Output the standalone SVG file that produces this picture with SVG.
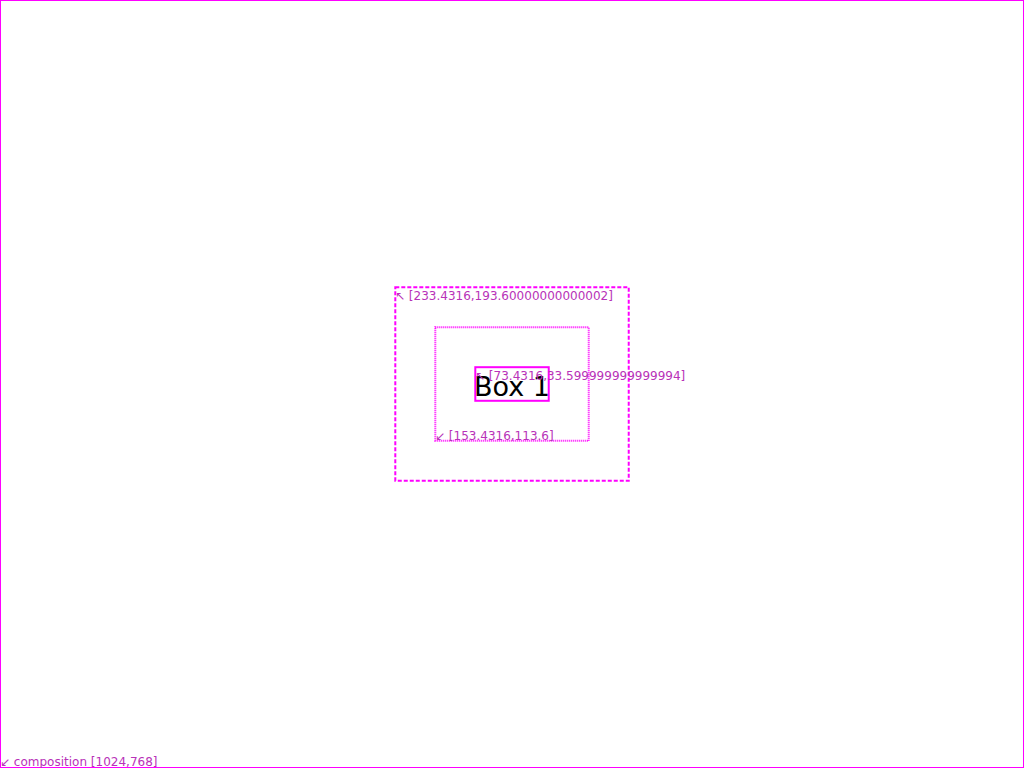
<svg xmlns="http://www.w3.org/2000/svg" width="1024" height="768" viewBox="0 0 1024 768">
<style>
.lbl{font-family:"DejaVu Sans",sans-serif;font-size:12px;fill:#b832b8}
.frame{fill:none;stroke:#ff00ff}
</style>
<rect width="1024" height="768" fill="#fff"/>
<g id="composition">
<rect class="frame" x="0.5" y="0.5" width="1023" height="767" stroke-width="1"/>
<text class="lbl" x="0" y="766">↙ composition [1024,768]</text>
</g>
<g id="outer">
<rect class="frame" x="395.3" y="287.2" width="233.43" height="193.6" stroke-width="2" stroke-dasharray="4,2"/>
<text class="lbl" x="395" y="299.5">↖ [233.4316,193.60000000000002]</text>
</g>
<g id="middle">
<rect class="frame" x="435.3" y="327.2" width="153.43" height="113.6" stroke-width="2" stroke-dasharray="1,1"/>
<text class="lbl" x="435" y="439.5">↙ [153.4316,113.6]</text>
</g>
<g id="box1">
<rect class="frame" x="475.3" y="367.2" width="73.43" height="33.6" stroke-width="2"/>
<text x="512" y="396" text-anchor="middle" font-family="DejaVu Sans, sans-serif" font-size="27" fill="#000">Box 1</text>
<text class="lbl" x="475" y="379.5">↖ [73.4316,33.599999999999994]</text>
</g>
</svg>
